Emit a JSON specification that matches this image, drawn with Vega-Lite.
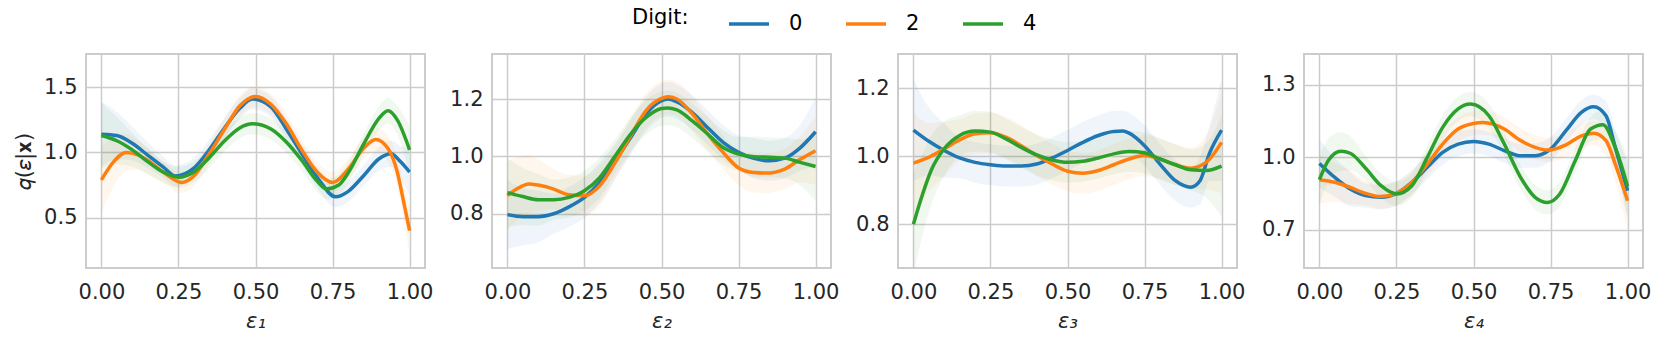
{
"$schema":"https://vega.github.io/schema/vega-lite/v6.json",
"background":"white",
"padding":{"left":12,"top":2,"right":5,"bottom":5},
"bounds":"flush",
"spacing":67,
"config":{
 "font":"DejaVu Sans",
 "view":{"stroke":"#cccccc","strokeWidth":2},
 "axis":{"labelFont":"DejaVu Sans","labelFontSize":21,"labelColor":"#262626","titleFont":"DejaVu Sans","titleFontSize":21,"titleColor":"#262626","titleFontWeight":"normal","grid":true,"gridColor":"#cccccc","gridWidth":1.5,"domain":false,"ticks":false,"labelPadding":9},
 "legend":{"orient":"none","legendX":546,"legendY":-52,"direction":"horizontal","titleOrient":"left","titleFont":"DejaVu Sans","titleFontSize":21,"titleFontWeight":"normal","titleColor":"#000000","labelFont":"DejaVu Sans","labelFontSize":21,"labelColor":"#000000","symbolType":"stroke","symbolStrokeWidth":3.5,"symbolSize":1600,"labelOffset":18,"columnPadding":36,"titlePadding":38}
},
"datasets":{"d":[
{"p":1,"digit":"0","x":0,"y":1.14,"e":0.25},{"p":1,"digit":"0","x":0.05,"y":1.13,"e":0.18},{"p":1,"digit":"0","x":0.1,"y":1.07,"e":0.13},{"p":1,"digit":"0","x":0.15,"y":0.98,"e":0.1},{"p":1,"digit":"0","x":0.2,"y":0.89,"e":0.08},{"p":1,"digit":"0","x":0.24,"y":0.82,"e":0.08},{"p":1,"digit":"0","x":0.3,"y":0.88,"e":0.08},{"p":1,"digit":"0","x":0.35,"y":1.02,"e":0.08},{"p":1,"digit":"0","x":0.4,"y":1.19,"e":0.08},{"p":1,"digit":"0","x":0.45,"y":1.34,"e":0.08},{"p":1,"digit":"0","x":0.49,"y":1.41,"e":0.08},{"p":1,"digit":"0","x":0.55,"y":1.35,"e":0.08},{"p":1,"digit":"0","x":0.6,"y":1.18,"e":0.08},{"p":1,"digit":"0","x":0.65,"y":0.99,"e":0.08},{"p":1,"digit":"0","x":0.7,"y":0.81,"e":0.08},{"p":1,"digit":"0","x":0.76,"y":0.66,"e":0.08},{"p":1,"digit":"0","x":0.8,"y":0.70,"e":0.08},{"p":1,"digit":"0","x":0.85,"y":0.82,"e":0.08},{"p":1,"digit":"0","x":0.9,"y":0.95,"e":0.09},{"p":1,"digit":"0","x":0.94,"y":0.99,"e":0.1},{"p":1,"digit":"0","x":0.97,"y":0.93,"e":0.12},{"p":1,"digit":"0","x":1,"y":0.85,"e":0.18},
{"p":1,"digit":"2","x":0,"y":0.79,"e":0.25},{"p":1,"digit":"2","x":0.04,"y":0.93,"e":0.19},{"p":1,"digit":"2","x":0.08,"y":1.0,"e":0.14},{"p":1,"digit":"2","x":0.12,"y":0.98,"e":0.11},{"p":1,"digit":"2","x":0.15,"y":0.94,"e":0.1},{"p":1,"digit":"2","x":0.2,"y":0.85,"e":0.08},{"p":1,"digit":"2","x":0.26,"y":0.77,"e":0.08},{"p":1,"digit":"2","x":0.3,"y":0.82,"e":0.08},{"p":1,"digit":"2","x":0.35,"y":0.99,"e":0.08},{"p":1,"digit":"2","x":0.4,"y":1.18,"e":0.08},{"p":1,"digit":"2","x":0.45,"y":1.36,"e":0.08},{"p":1,"digit":"2","x":0.5,"y":1.43,"e":0.08},{"p":1,"digit":"2","x":0.55,"y":1.37,"e":0.08},{"p":1,"digit":"2","x":0.6,"y":1.22,"e":0.08},{"p":1,"digit":"2","x":0.65,"y":1.02,"e":0.08},{"p":1,"digit":"2","x":0.7,"y":0.85,"e":0.08},{"p":1,"digit":"2","x":0.75,"y":0.77,"e":0.08},{"p":1,"digit":"2","x":0.8,"y":0.87,"e":0.08},{"p":1,"digit":"2","x":0.85,"y":1.03,"e":0.08},{"p":1,"digit":"2","x":0.89,"y":1.10,"e":0.09},{"p":1,"digit":"2","x":0.93,"y":1.03,"e":0.1},{"p":1,"digit":"2","x":0.96,"y":0.85,"e":0.11},{"p":1,"digit":"2","x":0.98,"y":0.63,"e":0.14},{"p":1,"digit":"2","x":1,"y":0.40,"e":0.18},
{"p":1,"digit":"4","x":0,"y":1.13,"e":0.25},{"p":1,"digit":"4","x":0.05,"y":1.09,"e":0.18},{"p":1,"digit":"4","x":0.1,"y":1.02,"e":0.13},{"p":1,"digit":"4","x":0.15,"y":0.93,"e":0.1},{"p":1,"digit":"4","x":0.2,"y":0.85,"e":0.08},{"p":1,"digit":"4","x":0.25,"y":0.81,"e":0.08},{"p":1,"digit":"4","x":0.3,"y":0.85,"e":0.08},{"p":1,"digit":"4","x":0.35,"y":0.96,"e":0.08},{"p":1,"digit":"4","x":0.4,"y":1.09,"e":0.08},{"p":1,"digit":"4","x":0.45,"y":1.19,"e":0.08},{"p":1,"digit":"4","x":0.49,"y":1.22,"e":0.08},{"p":1,"digit":"4","x":0.55,"y":1.18,"e":0.08},{"p":1,"digit":"4","x":0.6,"y":1.08,"e":0.08},{"p":1,"digit":"4","x":0.65,"y":0.94,"e":0.08},{"p":1,"digit":"4","x":0.7,"y":0.78,"e":0.08},{"p":1,"digit":"4","x":0.73,"y":0.72,"e":0.08},{"p":1,"digit":"4","x":0.77,"y":0.75,"e":0.08},{"p":1,"digit":"4","x":0.8,"y":0.84,"e":0.08},{"p":1,"digit":"4","x":0.85,"y":1.06,"e":0.08},{"p":1,"digit":"4","x":0.9,"y":1.26,"e":0.09},{"p":1,"digit":"4","x":0.93,"y":1.32,"e":0.1},{"p":1,"digit":"4","x":0.96,"y":1.25,"e":0.11},{"p":1,"digit":"4","x":1,"y":1.02,"e":0.18},
{"p":2,"digit":"0","x":0,"y":0.797,"e":0.12},{"p":2,"digit":"0","x":0.05,"y":0.79,"e":0.1},{"p":2,"digit":"0","x":0.1,"y":0.79,"e":0.09},{"p":2,"digit":"0","x":0.15,"y":0.80,"e":0.07},{"p":2,"digit":"0","x":0.2,"y":0.824,"e":0.07},{"p":2,"digit":"0","x":0.25,"y":0.857,"e":0.07},{"p":2,"digit":"0","x":0.3,"y":0.91,"e":0.07},{"p":2,"digit":"0","x":0.35,"y":0.985,"e":0.06},{"p":2,"digit":"0","x":0.4,"y":1.066,"e":0.06},{"p":2,"digit":"0","x":0.45,"y":1.148,"e":0.06},{"p":2,"digit":"0","x":0.5,"y":1.194,"e":0.06},{"p":2,"digit":"0","x":0.52,"y":1.20,"e":0.06},{"p":2,"digit":"0","x":0.55,"y":1.19,"e":0.06},{"p":2,"digit":"0","x":0.6,"y":1.153,"e":0.06},{"p":2,"digit":"0","x":0.65,"y":1.10,"e":0.06},{"p":2,"digit":"0","x":0.7,"y":1.049,"e":0.06},{"p":2,"digit":"0","x":0.75,"y":1.014,"e":0.06},{"p":2,"digit":"0","x":0.8,"y":0.993,"e":0.07},{"p":2,"digit":"0","x":0.85,"y":0.985,"e":0.07},{"p":2,"digit":"0","x":0.9,"y":0.994,"e":0.07},{"p":2,"digit":"0","x":0.95,"y":1.03,"e":0.08},{"p":2,"digit":"0","x":1,"y":1.086,"e":0.12},
{"p":2,"digit":"2","x":0,"y":0.863,"e":0.12},{"p":2,"digit":"2","x":0.03,"y":0.886,"e":0.11},{"p":2,"digit":"2","x":0.07,"y":0.904,"e":0.1},{"p":2,"digit":"2","x":0.1,"y":0.90,"e":0.09},{"p":2,"digit":"2","x":0.15,"y":0.886,"e":0.07},{"p":2,"digit":"2","x":0.2,"y":0.866,"e":0.07},{"p":2,"digit":"2","x":0.25,"y":0.863,"e":0.07},{"p":2,"digit":"2","x":0.3,"y":0.898,"e":0.07},{"p":2,"digit":"2","x":0.35,"y":0.979,"e":0.06},{"p":2,"digit":"2","x":0.4,"y":1.072,"e":0.06},{"p":2,"digit":"2","x":0.45,"y":1.16,"e":0.06},{"p":2,"digit":"2","x":0.5,"y":1.202,"e":0.06},{"p":2,"digit":"2","x":0.52,"y":1.208,"e":0.06},{"p":2,"digit":"2","x":0.55,"y":1.20,"e":0.06},{"p":2,"digit":"2","x":0.6,"y":1.148,"e":0.06},{"p":2,"digit":"2","x":0.65,"y":1.078,"e":0.06},{"p":2,"digit":"2","x":0.7,"y":1.014,"e":0.06},{"p":2,"digit":"2","x":0.75,"y":0.96,"e":0.06},{"p":2,"digit":"2","x":0.8,"y":0.944,"e":0.07},{"p":2,"digit":"2","x":0.84,"y":0.942,"e":0.07},{"p":2,"digit":"2","x":0.9,"y":0.956,"e":0.07},{"p":2,"digit":"2","x":0.95,"y":0.99,"e":0.08},{"p":2,"digit":"2","x":1,"y":1.02,"e":0.12},
{"p":2,"digit":"4","x":0,"y":0.874,"e":0.12},{"p":2,"digit":"4","x":0.05,"y":0.86,"e":0.1},{"p":2,"digit":"4","x":0.1,"y":0.849,"e":0.09},{"p":2,"digit":"4","x":0.15,"y":0.849,"e":0.07},{"p":2,"digit":"4","x":0.2,"y":0.857,"e":0.07},{"p":2,"digit":"4","x":0.25,"y":0.88,"e":0.07},{"p":2,"digit":"4","x":0.3,"y":0.927,"e":0.07},{"p":2,"digit":"4","x":0.35,"y":1.002,"e":0.06},{"p":2,"digit":"4","x":0.4,"y":1.078,"e":0.06},{"p":2,"digit":"4","x":0.45,"y":1.136,"e":0.06},{"p":2,"digit":"4","x":0.5,"y":1.167,"e":0.06},{"p":2,"digit":"4","x":0.52,"y":1.169,"e":0.06},{"p":2,"digit":"4","x":0.55,"y":1.162,"e":0.06},{"p":2,"digit":"4","x":0.6,"y":1.124,"e":0.06},{"p":2,"digit":"4","x":0.65,"y":1.078,"e":0.06},{"p":2,"digit":"4","x":0.7,"y":1.031,"e":0.06},{"p":2,"digit":"4","x":0.75,"y":1.008,"e":0.06},{"p":2,"digit":"4","x":0.8,"y":0.999,"e":0.07},{"p":2,"digit":"4","x":0.85,"y":0.997,"e":0.07},{"p":2,"digit":"4","x":0.9,"y":0.994,"e":0.07},{"p":2,"digit":"4","x":0.95,"y":0.979,"e":0.08},{"p":2,"digit":"4","x":1,"y":0.965,"e":0.12},
{"p":3,"digit":"0","x":0,"y":1.077,"e":0.15},{"p":3,"digit":"0","x":0.05,"y":1.044,"e":0.1},{"p":3,"digit":"0","x":0.1,"y":1.017,"e":0.08},{"p":3,"digit":"0","x":0.15,"y":0.995,"e":0.06},{"p":3,"digit":"0","x":0.2,"y":0.982,"e":0.06},{"p":3,"digit":"0","x":0.25,"y":0.975,"e":0.06},{"p":3,"digit":"0","x":0.3,"y":0.971,"e":0.06},{"p":3,"digit":"0","x":0.35,"y":0.971,"e":0.06},{"p":3,"digit":"0","x":0.4,"y":0.977,"e":0.06},{"p":3,"digit":"0","x":0.45,"y":0.995,"e":0.06},{"p":3,"digit":"0","x":0.5,"y":1.017,"e":0.06},{"p":3,"digit":"0","x":0.55,"y":1.041,"e":0.06},{"p":3,"digit":"0","x":0.6,"y":1.061,"e":0.06},{"p":3,"digit":"0","x":0.65,"y":1.073,"e":0.06},{"p":3,"digit":"0","x":0.68,"y":1.074,"e":0.06},{"p":3,"digit":"0","x":0.7,"y":1.068,"e":0.06},{"p":3,"digit":"0","x":0.75,"y":1.031,"e":0.06},{"p":3,"digit":"0","x":0.8,"y":0.977,"e":0.06},{"p":3,"digit":"0","x":0.85,"y":0.928,"e":0.06},{"p":3,"digit":"0","x":0.9,"y":0.909,"e":0.06},{"p":3,"digit":"0","x":0.93,"y":0.928,"e":0.07},{"p":3,"digit":"0","x":0.96,"y":1.007,"e":0.08},{"p":3,"digit":"0","x":1,"y":1.077,"e":0.15},
{"p":3,"digit":"2","x":0,"y":0.98,"e":0.15},{"p":3,"digit":"2","x":0.05,"y":0.997,"e":0.1},{"p":3,"digit":"2","x":0.1,"y":1.022,"e":0.08},{"p":3,"digit":"2","x":0.15,"y":1.048,"e":0.06},{"p":3,"digit":"2","x":0.2,"y":1.066,"e":0.06},{"p":3,"digit":"2","x":0.25,"y":1.069,"e":0.06},{"p":3,"digit":"2","x":0.3,"y":1.056,"e":0.06},{"p":3,"digit":"2","x":0.35,"y":1.031,"e":0.06},{"p":3,"digit":"2","x":0.4,"y":1.002,"e":0.06},{"p":3,"digit":"2","x":0.45,"y":0.977,"e":0.06},{"p":3,"digit":"2","x":0.5,"y":0.956,"e":0.06},{"p":3,"digit":"2","x":0.55,"y":0.95,"e":0.06},{"p":3,"digit":"2","x":0.6,"y":0.958,"e":0.06},{"p":3,"digit":"2","x":0.65,"y":0.975,"e":0.06},{"p":3,"digit":"2","x":0.7,"y":0.992,"e":0.06},{"p":3,"digit":"2","x":0.75,"y":1.002,"e":0.06},{"p":3,"digit":"2","x":0.8,"y":0.992,"e":0.06},{"p":3,"digit":"2","x":0.85,"y":0.975,"e":0.06},{"p":3,"digit":"2","x":0.9,"y":0.965,"e":0.06},{"p":3,"digit":"2","x":0.95,"y":0.982,"e":0.08},{"p":3,"digit":"2","x":1,"y":1.041,"e":0.15},
{"p":3,"digit":"4","x":0,"y":0.80,"e":0.15},{"p":3,"digit":"4","x":0.03,"y":0.889,"e":0.12},{"p":3,"digit":"4","x":0.06,"y":0.963,"e":0.1},{"p":3,"digit":"4","x":0.1,"y":1.022,"e":0.08},{"p":3,"digit":"4","x":0.15,"y":1.061,"e":0.06},{"p":3,"digit":"4","x":0.2,"y":1.074,"e":0.06},{"p":3,"digit":"4","x":0.25,"y":1.071,"e":0.06},{"p":3,"digit":"4","x":0.3,"y":1.051,"e":0.06},{"p":3,"digit":"4","x":0.35,"y":1.026,"e":0.06},{"p":3,"digit":"4","x":0.4,"y":1.004,"e":0.06},{"p":3,"digit":"4","x":0.45,"y":0.989,"e":0.06},{"p":3,"digit":"4","x":0.5,"y":0.982,"e":0.06},{"p":3,"digit":"4","x":0.55,"y":0.985,"e":0.06},{"p":3,"digit":"4","x":0.6,"y":0.995,"e":0.06},{"p":3,"digit":"4","x":0.65,"y":1.007,"e":0.06},{"p":3,"digit":"4","x":0.7,"y":1.014,"e":0.06},{"p":3,"digit":"4","x":0.75,"y":1.010,"e":0.06},{"p":3,"digit":"4","x":0.8,"y":0.992,"e":0.06},{"p":3,"digit":"4","x":0.85,"y":0.975,"e":0.06},{"p":3,"digit":"4","x":0.9,"y":0.96,"e":0.06},{"p":3,"digit":"4","x":0.95,"y":0.958,"e":0.08},{"p":3,"digit":"4","x":1,"y":0.971,"e":0.15},
{"p":4,"digit":"0","x":0,"y":0.975,"e":0.1},{"p":4,"digit":"0","x":0.05,"y":0.917,"e":0.08},{"p":4,"digit":"0","x":0.1,"y":0.869,"e":0.07},{"p":4,"digit":"0","x":0.15,"y":0.842,"e":0.05},{"p":4,"digit":"0","x":0.2,"y":0.835,"e":0.05},{"p":4,"digit":"0","x":0.25,"y":0.851,"e":0.05},{"p":4,"digit":"0","x":0.3,"y":0.897,"e":0.05},{"p":4,"digit":"0","x":0.35,"y":0.959,"e":0.05},{"p":4,"digit":"0","x":0.4,"y":1.021,"e":0.05},{"p":4,"digit":"0","x":0.45,"y":1.055,"e":0.05},{"p":4,"digit":"0","x":0.5,"y":1.066,"e":0.05},{"p":4,"digit":"0","x":0.55,"y":1.055,"e":0.05},{"p":4,"digit":"0","x":0.6,"y":1.028,"e":0.05},{"p":4,"digit":"0","x":0.65,"y":1.007,"e":0.05},{"p":4,"digit":"0","x":0.7,"y":1.007,"e":0.05},{"p":4,"digit":"0","x":0.75,"y":1.034,"e":0.05},{"p":4,"digit":"0","x":0.8,"y":1.11,"e":0.05},{"p":4,"digit":"0","x":0.85,"y":1.186,"e":0.05},{"p":4,"digit":"0","x":0.89,"y":1.209,"e":0.05},{"p":4,"digit":"0","x":0.93,"y":1.172,"e":0.06},{"p":4,"digit":"0","x":0.96,"y":1.041,"e":0.07},{"p":4,"digit":"0","x":1,"y":0.862,"e":0.12},
{"p":4,"digit":"2","x":0,"y":0.908,"e":0.1},{"p":4,"digit":"2","x":0.05,"y":0.897,"e":0.08},{"p":4,"digit":"2","x":0.1,"y":0.876,"e":0.07},{"p":4,"digit":"2","x":0.15,"y":0.851,"e":0.05},{"p":4,"digit":"2","x":0.2,"y":0.838,"e":0.05},{"p":4,"digit":"2","x":0.25,"y":0.851,"e":0.05},{"p":4,"digit":"2","x":0.3,"y":0.897,"e":0.05},{"p":4,"digit":"2","x":0.35,"y":0.972,"e":0.05},{"p":4,"digit":"2","x":0.4,"y":1.055,"e":0.05},{"p":4,"digit":"2","x":0.45,"y":1.117,"e":0.05},{"p":4,"digit":"2","x":0.5,"y":1.14,"e":0.05},{"p":4,"digit":"2","x":0.53,"y":1.144,"e":0.05},{"p":4,"digit":"2","x":0.6,"y":1.117,"e":0.05},{"p":4,"digit":"2","x":0.65,"y":1.072,"e":0.05},{"p":4,"digit":"2","x":0.7,"y":1.041,"e":0.05},{"p":4,"digit":"2","x":0.74,"y":1.03,"e":0.05},{"p":4,"digit":"2","x":0.8,"y":1.052,"e":0.05},{"p":4,"digit":"2","x":0.85,"y":1.089,"e":0.05},{"p":4,"digit":"2","x":0.89,"y":1.10,"e":0.05},{"p":4,"digit":"2","x":0.93,"y":1.069,"e":0.06},{"p":4,"digit":"2","x":0.96,"y":0.972,"e":0.07},{"p":4,"digit":"2","x":1,"y":0.821,"e":0.12},
{"p":4,"digit":"4","x":0,"y":0.908,"e":0.1},{"p":4,"digit":"4","x":0.03,"y":0.989,"e":0.09},{"p":4,"digit":"4","x":0.07,"y":1.025,"e":0.08},{"p":4,"digit":"4","x":0.1,"y":1.017,"e":0.07},{"p":4,"digit":"4","x":0.15,"y":0.955,"e":0.05},{"p":4,"digit":"4","x":0.2,"y":0.883,"e":0.05},{"p":4,"digit":"4","x":0.25,"y":0.849,"e":0.05},{"p":4,"digit":"4","x":0.3,"y":0.883,"e":0.05},{"p":4,"digit":"4","x":0.35,"y":1.0,"e":0.05},{"p":4,"digit":"4","x":0.4,"y":1.124,"e":0.05},{"p":4,"digit":"4","x":0.45,"y":1.20,"e":0.05},{"p":4,"digit":"4","x":0.49,"y":1.22,"e":0.05},{"p":4,"digit":"4","x":0.55,"y":1.172,"e":0.05},{"p":4,"digit":"4","x":0.6,"y":1.055,"e":0.05},{"p":4,"digit":"4","x":0.65,"y":0.924,"e":0.05},{"p":4,"digit":"4","x":0.7,"y":0.835,"e":0.05},{"p":4,"digit":"4","x":0.74,"y":0.814,"e":0.05},{"p":4,"digit":"4","x":0.78,"y":0.849,"e":0.05},{"p":4,"digit":"4","x":0.83,"y":0.986,"e":0.05},{"p":4,"digit":"4","x":0.88,"y":1.117,"e":0.05},{"p":4,"digit":"4","x":0.92,"y":1.135,"e":0.06},{"p":4,"digit":"4","x":0.96,"y":1.041,"e":0.07},{"p":4,"digit":"4","x":1,"y":0.88,"e":0.12}
]},
"hconcat":[
{"width":339,"height":214,"data":{"name":"d"},"transform":[{"filter":"datum.p==1"}],
 "encoding":{"x":{"field":"x","type":"quantitative","scale":{"domain":[-0.05,1.05],"nice":false,"zero":false},"axis":{"values":[0,0.25,0.5,0.75,1],"format":".2f","title":"ε₁","titleFontStyle":"italic","labelPadding":13,"titlePadding":8}},
  "y":{"field":"y","type":"quantitative","scale":{"domain":[0.114,1.755],"nice":false,"zero":false},"axis":{"values":[0.5,1.0,1.5],"format":".1f","title":"𝑞(𝜀|𝐱)","titlePadding":9}}},
 "layer":[
  {"mark":{"type":"errorband","interpolate":"monotone","clip":true,"band":{"opacity":0.07}},"encoding":{"yError":{"field":"e"},"fill":{"field":"digit","type":"nominal","legend":null,"scale":{"domain":["0","2","4","none"],"range":["#1f77b4","#ff7f0e","#2ca02c","#999999"]}}}},
  {"mark":{"type":"line","interpolate":"monotone","strokeWidth":3.5,"clip":true},"encoding":{"color":{"field":"digit","type":"nominal","title":"Digit:","scale":{"domain":["0","2","4"],"range":["#1f77b4","#ff7f0e","#2ca02c"]}}}}
 ]},
{"width":339,"height":214,"data":{"name":"d"},"transform":[{"filter":"datum.p==2"}],
 "encoding":{"x":{"field":"x","type":"quantitative","scale":{"domain":[-0.05,1.05],"nice":false,"zero":false},"axis":{"values":[0,0.25,0.5,0.75,1],"format":".2f","title":"ε₂","titleFontStyle":"italic","labelPadding":13,"titlePadding":8}},
  "y":{"field":"y","type":"quantitative","scale":{"domain":[0.611,1.357],"nice":false,"zero":false},"axis":{"values":[0.8,1.0,1.2],"format":".1f","title":null}}},
 "layer":[
  {"mark":{"type":"errorband","interpolate":"monotone","clip":true,"band":{"opacity":0.07}},"encoding":{"yError":{"field":"e"},"fill":{"field":"digit","type":"nominal","legend":null,"scale":{"domain":["0","2","4","none"],"range":["#1f77b4","#ff7f0e","#2ca02c","#999999"]}}}},
  {"mark":{"type":"line","interpolate":"monotone","strokeWidth":3.5,"clip":true},"encoding":{"color":{"field":"digit","type":"nominal","title":"Digit:","scale":{"domain":["0","2","4"],"range":["#1f77b4","#ff7f0e","#2ca02c"]}}}}
 ]},
{"width":339,"height":214,"data":{"name":"d"},"transform":[{"filter":"datum.p==3"}],
 "encoding":{"x":{"field":"x","type":"quantitative","scale":{"domain":[-0.05,1.05],"nice":false,"zero":false},"axis":{"values":[0,0.25,0.5,0.75,1],"format":".2f","title":"ε₃","titleFontStyle":"italic","labelPadding":13,"titlePadding":8}},
  "y":{"field":"y","type":"quantitative","scale":{"domain":[0.671,1.301],"nice":false,"zero":false},"axis":{"values":[0.8,1.0,1.2],"format":".1f","title":null}}},
 "layer":[
  {"mark":{"type":"errorband","interpolate":"monotone","clip":true,"band":{"opacity":0.07}},"encoding":{"yError":{"field":"e"},"fill":{"field":"digit","type":"nominal","legend":null,"scale":{"domain":["0","2","4","none"],"range":["#1f77b4","#ff7f0e","#2ca02c","#999999"]}}}},
  {"mark":{"type":"line","interpolate":"monotone","strokeWidth":3.5,"clip":true},"encoding":{"color":{"field":"digit","type":"nominal","title":"Digit:","scale":{"domain":["0","2","4"],"range":["#1f77b4","#ff7f0e","#2ca02c"]}}}}
 ]},
{"width":339,"height":214,"data":{"name":"d"},"transform":[{"filter":"datum.p==4"}],
 "encoding":{"x":{"field":"x","type":"quantitative","scale":{"domain":[-0.05,1.05],"nice":false,"zero":false},"axis":{"values":[0,0.25,0.5,0.75,1],"format":".2f","title":"ε₄","titleFontStyle":"italic","labelPadding":13,"titlePadding":8}},
  "y":{"field":"y","type":"quantitative","scale":{"domain":[0.543,1.427],"nice":false,"zero":false},"axis":{"values":[0.7,1.0,1.3],"format":".1f","title":null}}},
 "layer":[
  {"mark":{"type":"errorband","interpolate":"monotone","clip":true,"band":{"opacity":0.07}},"encoding":{"yError":{"field":"e"},"fill":{"field":"digit","type":"nominal","legend":null,"scale":{"domain":["0","2","4","none"],"range":["#1f77b4","#ff7f0e","#2ca02c","#999999"]}}}},
  {"mark":{"type":"line","interpolate":"monotone","strokeWidth":3.5,"clip":true},"encoding":{"color":{"field":"digit","type":"nominal","title":"Digit:","scale":{"domain":["0","2","4"],"range":["#1f77b4","#ff7f0e","#2ca02c"]}}}}
 ]}
]
}
